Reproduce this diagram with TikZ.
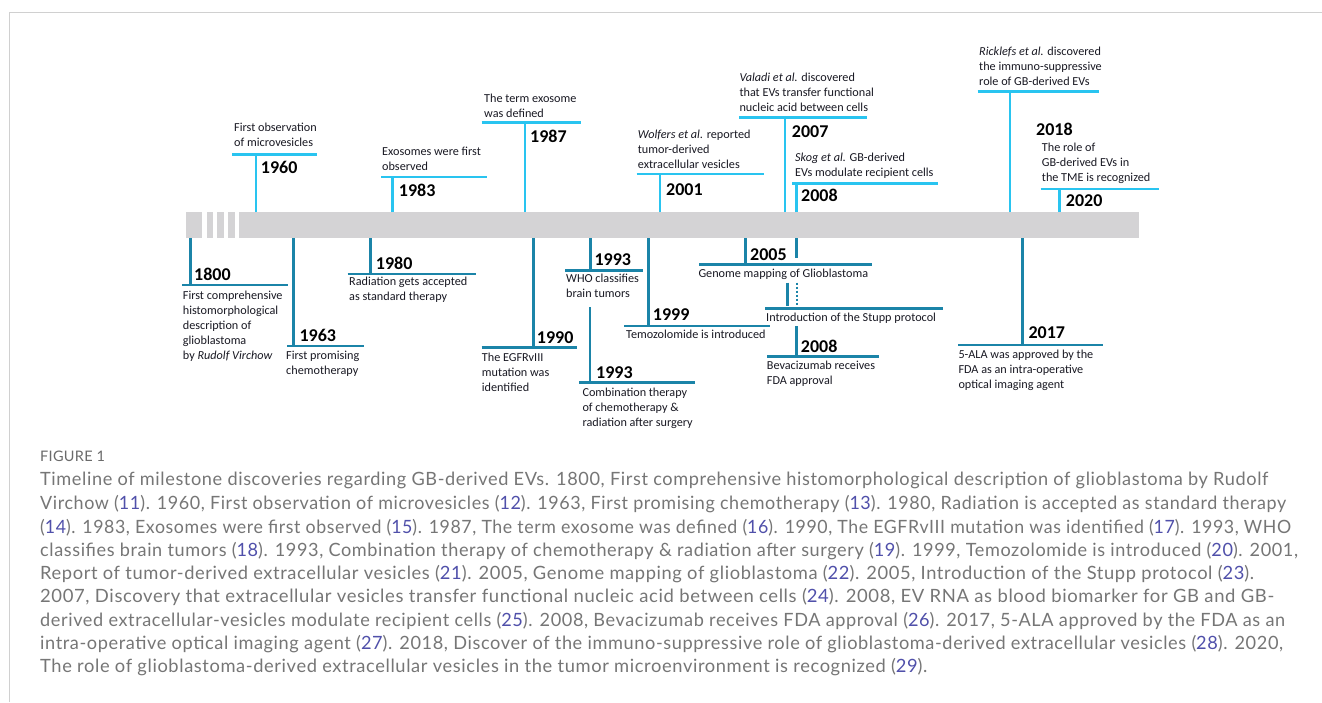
\documentclass[tikz,border=0pt]{standalone}
\usepackage{fontspec}
\usepackage{graphicx}
\setmainfont{Carlito}
\newfontfamily\capfont[LetterSpace=3.3]{Lato}
\newfontfamily\figfont[LetterSpace=2]{Lato}
\definecolor{upcol}{RGB}{41,196,240}
\definecolor{lowcol}{RGB}{27,132,168}
\definecolor{barcol}{RGB}{212,211,213}
\definecolor{txtcol}{RGB}{25,25,35}
\definecolor{capgray}{RGB}{118,118,118}
\definecolor{refcol}{RGB}{80,80,170}
\definecolor{bordercol}{RGB}{208,208,208}
\newcommand{\rf}[1]{\textcolor{refcol}{#1}}
\newcommand{\fitw}[2]{\resizebox{#1pt}{\height}{#2}}
\begin{document}
\begin{tikzpicture}[x=1pt,y=-1pt,
  upl/.style={draw=upcol, line width=2.8pt},
  lowl/.style={draw=lowcol, line width=2.8pt},
  lbl/.style={font=\fontsize{12.2}{15}\selectfont, align=left, inner sep=0pt, anchor=north west, text=txtcol},
  yr/.style={font=\fontsize{18}{20}\selectfont\bfseries, inner sep=0pt, anchor=west, text=black},
  capline/.style={font=\capfont\fontsize{18.3}{20}\selectfont, text=capgray, inner sep=0pt, anchor=west},
  figlbl/.style={font=\figfont\fontsize{14.5}{16}\selectfont, text=capgray!90!black, inner sep=0pt, anchor=west}]
\useasboundingbox (0,0) rectangle (1322,702);
\fill[white] (0,0) rectangle (1322,702);
% frame
\draw[bordercol, line width=1.2pt] (9.5,702) -- (9.5,12.3) -- (1322,12.3);

% timeline bar
\fill[barcol] (186,212) rectangle (201.7,238);
\fill[barcol] (206.7,212) rectangle (213.3,238);
\fill[barcol] (216.5,212) rectangle (224.2,238);
\fill[barcol] (227.7,212) rectangle (235,238);
\fill[barcol] (239.3,212) rectangle (1139,238);

% ---------- upper events ----------
% 1960
\draw[upl] (256,212) -- (256,154.7);
\draw[upl] (232,154.7) -- (316.7,154.7);
\node[lbl] (t1960) at (234,123.2) {First observation\\of microvesicles};
\node[yr] (y1960) at (260.7,167) {1960};
% 1983
\draw[upl] (392.7,212) -- (392.7,177);
\draw[upl] (381,177) -- (487,177);
\node[lbl] (t1983) at (382,146.9) {Exosomes were first\\observed};
\node[yr] (y1983) at (398.7,190) {1983};
% 1987
\draw[upl] (525,212) -- (525,122.3);
\draw[upl] (481.7,122.3) -- (580.7,122.3);
\node[lbl] (t1987) at (484,93.5) {The term exosome\\was defined};
\node[yr] (y1987) at (530,136) {1987};
% 2001
\draw[upl] (660,212) -- (660,174);
\draw[upl] (636.7,174) -- (764.3,174);
\node[lbl] (t2001) at (637.7,130.2) {\textit{Wolfers et al.} reported\\tumor-derived\\extracellular vesicles};
\node[yr] (y2001) at (666,189.3) {2001};
% 2007
\draw[upl] (785,212) -- (785,117.7);
\draw[upl] (739.3,117.7) -- (867.3,117.7);
\node[lbl] (t2007) at (739.3,72.9) {\textit{Valadi et al.} discovered\\that EVs transfer functional\\nucleic acid between cells};
\node[yr] (y2007) at (791.7,131.7) {2007};
% 2008 upper
\draw[upl] (796.7,212) -- (796.7,183.3);
\draw[upl] (792.3,183.3) -- (938.3,183.3);
\node[lbl] (t2008u) at (795,152.5) {\textit{Skog et al.} GB-derived\\EVs modulate recipient cells};
\node[yr] (y2008u) at (801,195) {2008};
% 2018
\draw[upl] (1010,212) -- (1010,91.7);
\draw[upl] (977.7,91.7) -- (1099.3,91.7);
\node[lbl] (t2018) at (979,46.9) {\textit{Ricklefs et al.} discovered\\the immuno-suppressive\\role of GB-derived EVs};
\node[yr] (y2018) at (1036,129.3) {2018};
% 2020
\draw[upl] (1059.3,212) -- (1059.3,189);
\draw[upl] (1040.7,189) -- (1159,189);
\node[lbl] (t2020) at (1041.7,142.9) {The role of\\GB-derived EVs in\\the TME is recognized};
\node[yr] (y2020) at (1065.7,200.7) {2020};

% ---------- lower events ----------
% 1800
\draw[lowl] (190.7,238) -- (190.7,285);
\draw[lowl] (182.3,285) -- (288.3,285);
\node[yr] (y1800) at (194,274) {1800};
\node[lbl] (t1800) at (182.7,290.9) {First comprehensive\\histomorphological\\description of\\glioblastoma\\by \textit{Rudolf Virchow}};
% 1963
\draw[lowl] (293.3,238) -- (293.3,346);
\draw[lowl] (287.3,346) -- (364,346);
\node[yr] (y1963) at (299.3,335) {1963};
\node[lbl] (t1963) at (286,351.2) {First promising\\chemotherapy};
% 1980
\draw[lowl] (370.7,238) -- (370.7,274);
\draw[lowl] (347.7,274) -- (475.7,274);
\node[yr] (y1980) at (375.7,263.3) {1980};
\node[lbl] (t1980) at (349,276.9) {Radiation gets accepted\\as standard therapy};
% 1990
\draw[lowl] (533.3,238) -- (533.3,347.3);
\draw[lowl] (481.7,347.3) -- (577.3,347.3);
\node[yr] (y1990) at (536.7,337.3) {1990};
\node[lbl] (t1990) at (481.7,352.5) {The EGFRvIII\\mutation was\\identified};
% 1993 WHO
\draw[lowl] (590.7,238) -- (590.7,270.7);
\draw[lowl] (565,270.7) -- (643.3,270.7);
\node[yr] (y1993a) at (594.3,259.3) {1993};
\node[lbl] (t1993a) at (566,273.5) {WHO classifies\\brain tumors};
% 1993 combination
\draw[lowl] (590,307.3) -- (590,382.7);
\draw[lowl] (579,382.7) -- (695,382.7);
\node[yr] (y1993b) at (596,372.7) {1993};
\node[lbl] (t1993b) at (582.3,387.9) {Combination therapy\\of chemotherapy \&\\radiation after surgery};
% 1999
\draw[lowl] (648.3,238) -- (648.3,326);
\draw[lowl] (624.3,326) -- (770,326);
\node[yr] (y1999) at (652.7,315) {1999};
\node[lbl] (t1999) at (626,329.5) {Temozolomide is introduced};
% 2005
\draw[lowl] (745.7,238) -- (745.7,264.3);
\draw[lowl] (699.3,264.3) -- (872.3,264.3);
\node[yr] (y2005) at (750,254.3) {2005};
\node[lbl] (t2005) at (698.3,268.5) {Genome mapping of Glioblastoma};
\draw[lowl] (796.7,238) -- (796.7,258.3);
% Stupp
\draw[lowl] (787.7,282.7) -- (787.7,306);
\draw[draw=lowcol, line width=2.4pt, dash pattern=on 2pt off 2pt] (796.7,282.7) -- (796.7,306);
\draw[lowl] (765,308.3) -- (942.7,308.3);
\node[lbl] (tstupp) at (766,312.9) {Introduction of the Stupp protocol};
% 2008 lower
\draw[lowl] (796.7,326) -- (796.7,356.7);
\draw[lowl] (767.3,356.7) -- (879,356.7);
\node[yr] (y2008l) at (800.7,346) {2008};
\node[lbl] (t2008l) at (766.7,361.2) {Bevacizumab receives\\FDA approval};
% 2017
\draw[lowl] (1022.7,238) -- (1022.7,345);
\draw[lowl] (958.3,345) -- (1103.3,345);
\node[yr] (y2017) at (1028.3,332.7) {2017};
\node[lbl] (t2017) at (958.3,350.2) {5-ALA was approved by the\\FDA as an intra-operative\\optical imaging agent};

% ---------- caption ----------
\node[figlbl] (fig) at (40,456) {FIGURE 1};
\node[capline] (c1) at (40,480.7) {\fitw{1228}{Timeline of milestone discoveries regarding GB-derived EVs. 1800, First comprehensive histomorphological description of glioblastoma by Rudolf}};
\node[capline] (c2) at (40,504) {\fitw{1246}{Virchow (\rf{11}). 1960, First observation of microvesicles (\rf{12}). 1963, First promising chemotherapy (\rf{13}). 1980, Radiation is accepted as standard therapy}};
\node[capline] (c3) at (40,527.3) {\fitw{1251}{(\rf{14}). 1983, Exosomes were first observed (\rf{15}). 1987, The term exosome was defined (\rf{16}). 1990, The EGFRvIII mutation was identified (\rf{17}). 1993, WHO}};
\node[capline] (c4) at (40,550.6) {\fitw{1258}{classifies brain tumors (\rf{18}). 1993, Combination therapy of chemotherapy \& radiation after surgery (\rf{19}). 1999, Temozolomide is introduced (\rf{20}). 2001,}};
\node[capline] (c5) at (40,573.9) {\fitw{1214}{Report of tumor-derived extracellular vesicles (\rf{21}). 2005, Genome mapping of glioblastoma (\rf{22}). 2005, Introduction of the Stupp protocol (\rf{23}).}};
\node[capline] (c6) at (40,597.2) {\fitw{1234}{2007, Discovery that extracellular vesicles transfer functional nucleic acid between cells (\rf{24}). 2008, EV RNA as blood biomarker for GB and GB-}};
\node[capline] (c7) at (40,620.5) {\fitw{1245}{derived extracellular-vesicles modulate recipient cells (\rf{25}). 2008, Bevacizumab receives FDA approval (\rf{26}). 2017, 5-ALA approved by the FDA as an}};
\node[capline] (c8) at (40,643.8) {\fitw{1243}{intra-operative optical imaging agent (\rf{27}). 2018, Discover of the immuno-suppressive role of glioblastoma-derived extracellular vesicles (\rf{28}). 2020,}};
\node[capline] (c9) at (40,667.1) {The role of glioblastoma-derived extracellular vesicles in the tumor microenvironment is recognized (\rf{29}).};
\end{tikzpicture}
\end{document}
